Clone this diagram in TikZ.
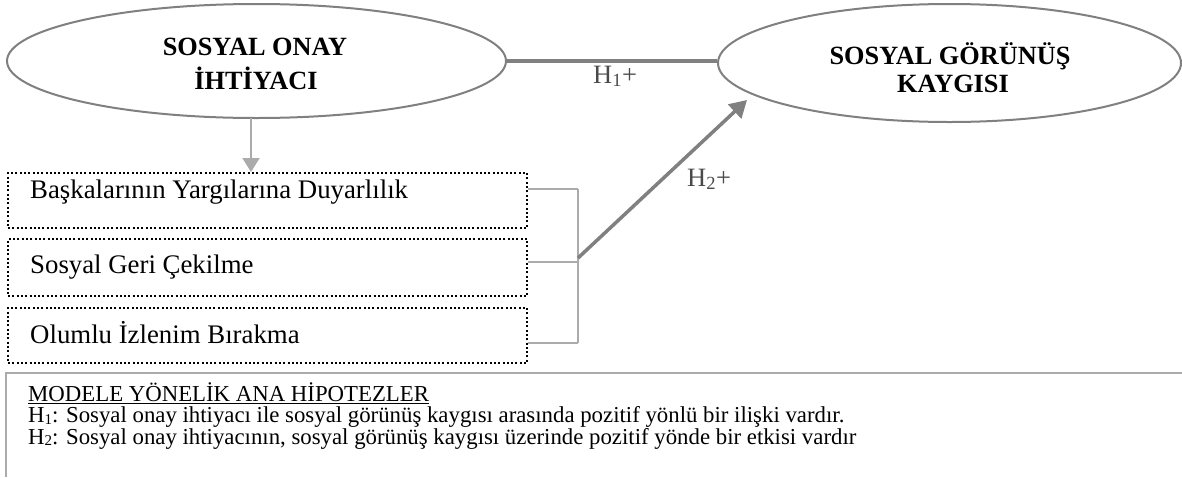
\documentclass[tikz,border=0pt]{standalone}
\usepackage{fontspec}
\setmainfont{Liberation Serif}
\usetikzlibrary{shapes.geometric,arrows.meta}
\definecolor{elline}{HTML}{808080}
\definecolor{brline}{HTML}{ABABAB}
\definecolor{lbl}{HTML}{4A4A4A}
\newcommand{\lowsub}[1]{\raisebox{-1.5pt}{\fontsize{15}{15}\selectfont #1}}
\begin{document}
\begin{tikzpicture}[x=1pt,y=-1pt,
  oval/.style={ellipse,draw=elline,line width=2pt,inner sep=0pt,fill=white},
  head/.style={anchor=base,font=\fontsize{26.3}{28}\selectfont\bfseries,inner sep=0pt},
  dotbox/.style={draw=black,line width=2pt,dash pattern=on 2pt off 2.3pt,minimum width=519pt,inner sep=0pt,anchor=north west},
  boxtext/.style={anchor=base west,font=\fontsize{26.8}{28}\selectfont,inner sep=0pt},
  bracket/.style={draw=brline,line width=2pt},
  hyplabel/.style={anchor=base west,font=\fontsize{26.5}{28}\selectfont,text=lbl,inner sep=0pt},
  hyptext/.style={anchor=base west,font=\fontsize{22.8}{25}\selectfont,inner sep=0pt}]
\useasboundingbox (0,0) rectangle (1182,477);
% ellipses
\node[oval,minimum width=499pt,minimum height=114pt] (son) at (256.5,61) {};
\node[oval,minimum width=463pt,minimum height=118pt] (sgk) at (949.5,63) {};
\node[head] (son1) at (255,55) {SOSYAL ONAY};
\node[head] (son2) at (256,89) {İHTİYACI};
\node[head] (sgk1) at (950,64) {SOSYAL GÖRÜNÜŞ};
\node[head] (sgk2) at (953,92) {KAYGISI};
% H1 line
\draw[draw=elline,line width=3.5pt] (son.east) -- (son.east -| sgk.west);
\node[hyplabel] (h1) at (593,83) {H\textsubscript{1}+};
% dotted boxes
\node[dotbox,minimum height=55pt] (b1) at (7,172) {};
\node[dotbox,minimum height=57pt] (b2) at (7,238) {};
\node[dotbox,minimum height=55pt] (b3) at (7,307) {};
\node[boxtext] (t1) at (30,198) {Başkalarının Yargılarına Duyarlılık};
\node[boxtext] (t2) at (30,273) {Sosyal Geri Çekilme};
\node[boxtext] (t3) at (30,343) {Olumlu İzlenim Bırakma};
% down arrow
\coordinate (a0) at (251,118);
\draw[draw=brline,line width=2pt,-{Triangle[width=17pt,length=14pt]},brline] (a0) -- (a0 |- b1.north);
% bracket
\coordinate (j1) at (578,189);
\coordinate (j2) at (578,262);
\coordinate (j3) at (578,343);
\coordinate (jm) at (578,258);
\draw[bracket] (j1 -| b1.east) -- (j1);
\draw[bracket] (j2 -| b2.east) -- (j2);
\draw[bracket] (j3 -| b3.east) -- (j3);
\draw[bracket] (j1) -- (j3);
% H2 arrow
\coordinate (tip) at (747,100);
\draw[draw=elline,line width=3.5pt,-{Triangle[width=19pt,length=17pt]},elline] (jm) -- (tip);
\node[hyplabel] (h2) at (687,186) {H\textsubscript{2}+};
% hypotheses panel
\coordinate (p0) at (6,477);
\coordinate (p1) at (6,373);
\coordinate (p2) at (1182,373);
\draw[bracket] (p0) -- (p1) -- (p2);
\node[hyptext] (m0) at (28,401) {MODELE YÖNELİK ANA HİPOTEZLER};
\draw[line width=1.3pt] ([yshift=-2.8pt]m0.base west) -- ([yshift=-2.8pt]m0.base east);
\node[hyptext] (m1) at (28,422.5) {H\lowsub{1}: Sosyal onay ihtiyacı ile sosyal görünüş kaygısı arasında pozitif yönlü bir ilişki vardır.};
\node[hyptext] (m2) at (28,444) {H\lowsub{2}: Sosyal onay ihtiyacının, sosyal görünüş kaygısı üzerinde pozitif yönde bir etkisi vardır};
\end{tikzpicture}
\end{document}
